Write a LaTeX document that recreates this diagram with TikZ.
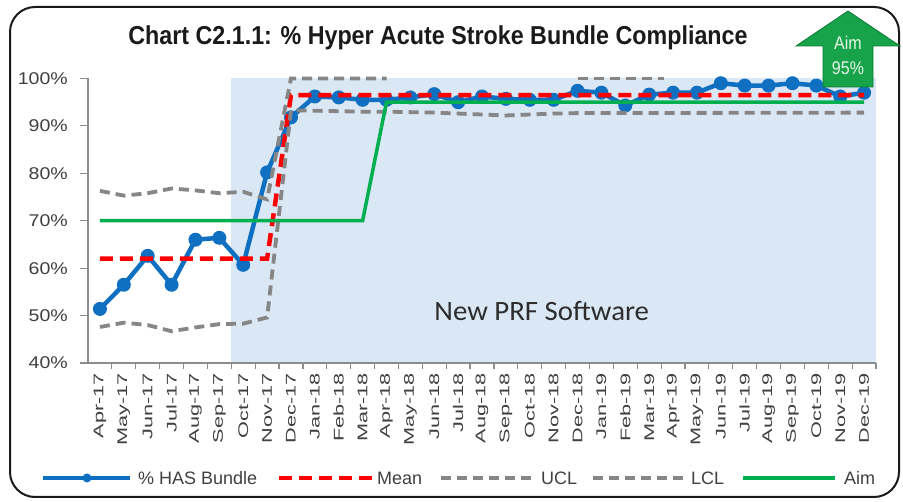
\documentclass[tikz,border=0pt]{standalone}
\usepackage{fontspec}
\setmainfont{Liberation Sans}
\newfontfamily\notefont{Carlito}
\definecolor{frameblk}{HTML}{1A1A1A}
\definecolor{plotshade}{HTML}{DAE7F4}
\definecolor{hasblue}{HTML}{0F6FC0}
\definecolor{meanred}{HTML}{FF0000}
\definecolor{limgray}{HTML}{868686}
\definecolor{aimgreen}{HTML}{00B050}
\definecolor{axisgray}{HTML}{8C8C8C}
\definecolor{labelgray}{HTML}{404040}
\definecolor{arrowgreen}{HTML}{17A34A}
\definecolor{arrowedge}{HTML}{0E7A36}
\definecolor{arrowtext}{HTML}{E6F7E6}

\begin{document}
\begin{tikzpicture}[x=1pt,y=-1pt,
  chartframe/.style={draw=frameblk,line width=2pt,rounded corners=25pt},
  axisline/.style={draw=axisgray,line width=1.2pt},
  hasline/.style={draw=hasblue,line width=4.5pt,line join=round},
  hasdot/.style={fill=hasblue},
  meanline/.style={draw=meanred,line width=4.5pt,dash pattern=on 13pt off 7pt},
  limline/.style={draw=limgray,line width=3.8pt,dash pattern=on 10pt off 6pt},
  aimline/.style={draw=aimgreen,line width=3.5pt},
  ylab/.style={anchor=east,inner sep=0pt,text=labelgray,font=\fontsize{17}{19}\selectfont},
  xlab/.style={anchor=east,rotate=90,inner sep=0pt,text=labelgray,font=\fontsize{14}{16}\selectfont},
  legtext/.style={anchor=west,inner sep=0pt,text=labelgray,font=\fontsize{18}{20}\selectfont},
  charttitle/.style={inner sep=0pt,text=frameblk,font=\bfseries\fontsize{24}{28}\selectfont},
  notetext/.style={inner sep=0pt,text=labelgray!70!black,font=\notefont\fontsize{28}{30}\selectfont},
  aimtext/.style={inner sep=0pt,text=arrowtext,font=\fontsize{16}{18}\selectfont}
]
\useasboundingbox (0,0) rectangle (903,502);
\fill[white] (0,0) rectangle (903,502);

% outer chart frame
\draw[chartframe] (10,7) rectangle (899,497);

% title
\node[charttitle] (title) at (438,38) {\scalebox{0.97}[1.08]{Chart C2.1.1: \% Hyper Acute Stroke Bundle Compliance}};

% plot area: x = month index, y = percentage
\begin{scope}[shift={(88,552.68)},x=23.88pt,y=4.742pt]
  % shaded period after the software change
  \fill[plotshade] (6,40) rectangle (33,100);
  \node[notetext] (note) at (19.0,51) {\scalebox{1.03}[1]{New PRF Software}};

  % axes and ticks
  \draw[axisline] (0,100) -- (0,40) -- (33,40);
  \foreach \v in {40,50,...,100} {
    \draw[axisline] (0,\v) -- ++(-8pt,0);
    \node[ylab] (y\v) at ([xshift=-20pt]0,\v) {\scalebox{1.15}[1]{\v\%}};
  }
  \foreach \k in {1,...,33} \draw[axisline] (\k,40) -- ++(0,-6pt);
  \foreach \m [count=\k from 0] in {Apr-17,May-17,Jun-17,Jul-17,Aug-17,Sep-17,Oct-17,Nov-17,Dec-17,Jan-18,Feb-18,Mar-18,Apr-18,May-18,Jun-18,Jul-18,Aug-18,Sep-18,Oct-18,Nov-18,Dec-18,Jan-19,Feb-19,Mar-19,Apr-19,May-19,Jun-19,Jul-19,Aug-19,Sep-19,Oct-19,Nov-19,Dec-19}
    \node[xlab] (m\k) at ([yshift=-10pt]\k+0.5,40) {\scalebox{1.55}[1]{\m}};

  % % HAS Bundle series
  \draw[hasline] plot coordinates {(0.5,51.4) (1.5,56.5) (2.5,62.6) (3.5,56.5) (4.5,66.0) (5.5,66.4) (6.5,60.7) (7.5,80.2) (8.5,91.8) (9.5,96.2) (10.5,96.0) (11.5,95.5) (12.5,95.5) (13.5,96.0) (14.5,96.7) (15.5,95.0) (16.5,96.2) (17.5,95.7) (18.5,95.5) (19.5,95.5) (20.5,97.4) (21.5,97.0) (22.5,94.3) (23.5,96.6) (24.5,97.0) (25.5,97.0) (26.5,99.0) (27.5,98.5) (28.5,98.5) (29.5,99.0) (30.5,98.5) (31.5,96.2) (32.5,97.0)};
  \foreach \x/\v in {0.5/51.4,1.5/56.5,2.5/62.6,3.5/56.5,4.5/66.0,5.5/66.4,6.5/60.7,7.5/80.2,8.5/91.8,9.5/96.2,10.5/96.0,11.5/95.5,12.5/95.5,13.5/96.0,14.5/96.7,15.5/95.0,16.5/96.2,17.5/95.7,18.5/95.5,19.5/95.5,20.5/97.4,21.5/97.0,22.5/94.3,23.5/96.6,24.5/97.0,25.5/97.0,26.5/99.0,27.5/98.5,28.5/98.5,29.5/99.0,30.5/98.5,31.5/96.2,32.5/97.0}
    \fill[hasdot] (\x,\v) circle[radius=7pt];

  % mean
  \draw[meanline] (0.5,62) -- (7.5,62) -- (8.5,96.5) -- (32.5,96.5);

  % upper control limit (above 100% it leaves the plot)
  \draw[limline] (0.5,76.3) -- (1.5,75.3) -- (2.5,75.8) -- (3.5,76.8) -- (4.5,76.4) -- (5.5,75.8) -- (6.5,76.1) -- (7.5,74.5) -- (8.5,100) -- (12.5,100);
  \draw[limline] (20.5,100) -- (24.1,100);

  % lower control limit
  \draw[limline] (0.5,47.6) -- (1.5,48.5) -- (2.5,48.0) -- (3.5,46.7) -- (4.5,47.5) -- (5.5,48.2) -- (6.5,48.3) -- (7.5,49.6) -- (8.5,93.3) -- (9.5,93.2) -- (10.5,93.1) -- (11.5,93.0) -- (12.5,93.0) -- (13.5,92.9) -- (14.5,92.8) -- (15.5,92.6) -- (16.5,92.4) -- (17.5,92.2) -- (18.5,92.4) -- (19.5,92.6) -- (20.5,92.7) -- (32.5,92.8);

  % aim
  \draw[aimline] (0.5,70) -- (11.5,70) -- (12.5,95) -- (32.5,95);
\end{scope}

% legend
\coordinate (lb1) at (43,478);  \coordinate (lb2) at (130,478);
\draw[hasline] (lb1) -- (lb2);
\fill[hasdot] (87,478) circle[radius=4.5pt];
\node[legtext] (lhas) at (138,478) {\% HAS Bundle};
\coordinate (lm1) at (279,478); \coordinate (lm2) at (372,478);
\draw[meanline] (lm1) -- (lm2);
\node[legtext] (lmean) at (377,478) {Mean};
\coordinate (lu1) at (441,478); \coordinate (lu2) at (533,478);
\draw[limline] (lu1) -- (lu2);
\node[legtext] (lucl) at (541,478) {UCL};
\coordinate (ll1) at (593,478); \coordinate (ll2) at (685,478);
\draw[limline] (ll1) -- (ll2);
\node[legtext] (llcl) at (691,478) {LCL};
\coordinate (la1) at (743,478); \coordinate (la2) at (835,478);
\draw[aimline] (la1) -- (la2);
\node[legtext] (laim) at (844,478) {Aim};

% aim arrow badge
\draw[fill=arrowgreen,draw=arrowedge,line width=0.8pt,line join=miter]
  (848,11) -- (900,46) -- (873,46) -- (873,87) -- (823,87) -- (823,46) -- (796,46) -- cycle;
\node[aimtext] (aimw) at (848,43) {\scalebox{1}[1.15]{Aim}};
\node[aimtext] (aimv) at (848,68) {\scalebox{1}[1.15]{95\%}};
\end{tikzpicture}
\end{document}
